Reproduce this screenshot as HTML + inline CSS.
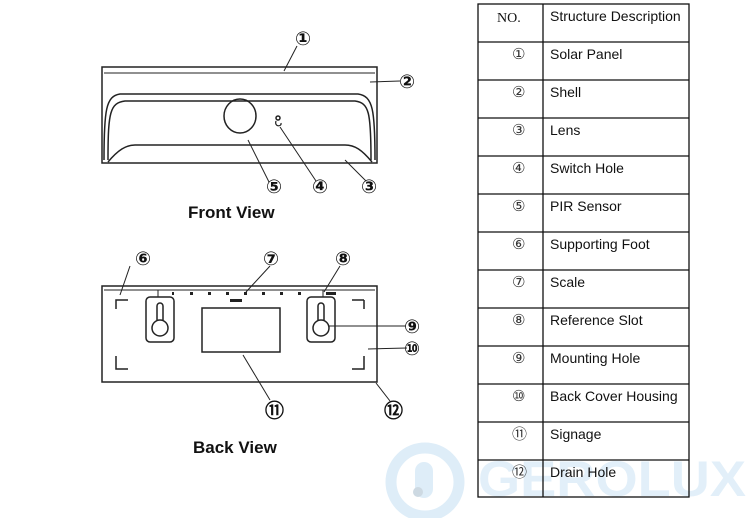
<!DOCTYPE html>
<html><head><meta charset="utf-8"><style>
html,body{margin:0;padding:0;background:#fff;}
svg{display:block}
.c{font-family:"DejaVu Sans","Liberation Sans",sans-serif;font-size:19px;font-weight:bold;fill:#111;}
.t{font-family:"Liberation Sans",sans-serif;font-size:14px;fill:#111;}
.n{font-family:"Liberation Serif","DejaVu Sans",serif;font-size:15px;fill:#333;}
</style></head><body>
<svg width="750" height="518" viewBox="0 0 750 518" xmlns="http://www.w3.org/2000/svg">
<!-- watermark -->
<g fill="none" stroke="#deedf8" stroke-width="11">
<circle cx="425" cy="482" r="34"/>
</g>
<rect x="415" y="462" width="18" height="36" rx="9" fill="#deedf8"/>
<circle cx="418" cy="492" r="5" fill="#cdd9e2"/>
<text x="478" y="496" font-family="Liberation Sans,sans-serif" font-weight="bold" font-size="50" fill="#e2eff9" textLength="268" lengthAdjust="spacingAndGlyphs">GEROLUX</text>

<!-- Front view -->
<g fill="none" stroke="#222" stroke-width="1.5">
<rect x="102" y="67" width="275" height="96"/>
<line x1="104" y1="73" x2="375" y2="73" stroke-width="1"/>
<path d="M104,160 C104,110 106,96 120,94 L358,94 C373,96 375,110 375,160"/>
<path d="M108,160 C108,112 110,103 125,101 L355,101 C369,103 371,112 371,160"/>
<path d="M108,162 C118,150 126,145 135,145 L345,145 C355,145 362,150 372,162"/>
<ellipse cx="240" cy="116" rx="16" ry="17"/>
<circle cx="278" cy="118" r="2"/>
<path d="M276,121 C274,127 282,127 281,123" stroke-width="1.2"/>
<line x1="297" y1="46" x2="284" y2="71" stroke-width="1"/>
<line x1="370" y1="82" x2="400" y2="81" stroke-width="1"/>
<line x1="248" y1="140" x2="269" y2="182" stroke-width="1"/>
<line x1="280" y1="127" x2="316" y2="181" stroke-width="1"/>
<line x1="345" y1="160" x2="366" y2="181" stroke-width="1"/>
</g>
<text class="c" x="295" y="45">①</text>
<text class="c" x="399" y="88">②</text>
<text class="c" x="361" y="193">③</text>
<text class="c" x="312" y="193">④</text>
<text class="c" x="266" y="193">⑤</text>
<text x="188" y="218" font-family="Liberation Sans,sans-serif" font-weight="bold" font-size="17" fill="#111">Front View</text>

<!-- Back view -->
<g fill="none" stroke="#222" stroke-width="1.5">
<rect x="102" y="286" width="275" height="96"/>
<line x1="104" y1="290" x2="375" y2="290" stroke-width="1"/>
<path d="M116,309 V300 H128"/><path d="M364,300 V309 M352,300 H364"/>
<path d="M116,356 V369 H128"/><path d="M364,356 V369 H352"/>
<rect x="146" y="297" width="28" height="45" rx="4"/>
<rect x="307" y="297" width="28" height="45" rx="4"/>
<path d="M157,320 V306 A3,3 0 0 1 163,306 V320"/>
<circle cx="160" cy="328" r="8"/>
<path d="M318,320 V306 A3,3 0 0 1 324,306 V320"/>
<circle cx="321" cy="328" r="8"/>
<rect x="202" y="308" width="78" height="44"/>
<line x1="158" y1="290" x2="158" y2="297" stroke-width="1"/>
<line x1="323" y1="290" x2="323" y2="297" stroke-width="1"/>
<line x1="130" y1="266" x2="120" y2="295" stroke-width="1"/>
<line x1="270" y1="266" x2="246" y2="292" stroke-width="1"/>
<line x1="340" y1="266" x2="324" y2="292" stroke-width="1"/>
<line x1="328" y1="326" x2="406" y2="326" stroke-width="1"/>
<line x1="368" y1="349" x2="407" y2="348" stroke-width="1"/>
<line x1="243" y1="355" x2="270" y2="400" stroke-width="1"/>
<line x1="376" y1="383" x2="390" y2="401" stroke-width="1"/>
</g>
<g fill="#222">
<rect x="172" y="292" width="2" height="3"/><rect x="190" y="292" width="3" height="3"/><rect x="208" y="292" width="3" height="3"/>
<rect x="226" y="292" width="3" height="3"/><rect x="244" y="292" width="3" height="3"/><rect x="262" y="292" width="3" height="3"/>
<rect x="280" y="292" width="3" height="3"/><rect x="298" y="292" width="3" height="3"/><rect x="326" y="292" width="10" height="3"/>
<rect x="230" y="299" width="12" height="3"/>
</g>
<text class="c" x="135" y="265">⑥</text>
<text class="c" x="263" y="265">⑦</text>
<text class="c" x="335" y="265">⑧</text>
<text class="c" x="404" y="333">⑨</text>
<text class="c" x="404" y="355">⑩</text>
<text class="c" x="265" y="417">⑪</text>
<text class="c" x="384" y="417">⑫</text>
<text x="193" y="453" font-family="Liberation Sans,sans-serif" font-weight="bold" font-size="17" fill="#111">Back View</text>

<!-- Table -->
<g stroke="#111" stroke-width="1.3" fill="none">
<rect x="478" y="4" width="211" height="493"/>
<line x1="543" y1="4" x2="543" y2="497"/>
<line x1="478" y1="42" x2="689" y2="42"/>
<line x1="478" y1="80" x2="689" y2="80"/>
<line x1="478" y1="118" x2="689" y2="118"/>
<line x1="478" y1="156" x2="689" y2="156"/>
<line x1="478" y1="194" x2="689" y2="194"/>
<line x1="478" y1="232" x2="689" y2="232"/>
<line x1="478" y1="270" x2="689" y2="270"/>
<line x1="478" y1="308" x2="689" y2="308"/>
<line x1="478" y1="346" x2="689" y2="346"/>
<line x1="478" y1="384" x2="689" y2="384"/>
<line x1="478" y1="422" x2="689" y2="422"/>
<line x1="478" y1="460" x2="689" y2="460"/>
</g>
<text x="497" y="22" font-family="Liberation Serif,serif" font-size="14" fill="#111">NO.</text>
<text class="t" x="550" y="21">Structure Description</text>
<text class="n" x="512" y="59">①</text><text class="n" x="512" y="97">②</text><text class="n" x="512" y="135">③</text>
<text class="n" x="512" y="173">④</text><text class="n" x="512" y="211">⑤</text><text class="n" x="512" y="249">⑥</text>
<text class="n" x="512" y="287">⑦</text><text class="n" x="512" y="325">⑧</text><text class="n" x="512" y="363">⑨</text>
<text class="n" x="512" y="401">⑩</text><text class="n" x="512" y="439">⑪</text><text class="n" x="512" y="477">⑫</text>
<text class="t" x="550" y="59">Solar Panel</text>
<text class="t" x="550" y="97">Shell</text>
<text class="t" x="550" y="135">Lens</text>
<text class="t" x="550" y="173">Switch Hole</text>
<text class="t" x="550" y="211">PIR Sensor</text>
<text class="t" x="550" y="249">Supporting Foot</text>
<text class="t" x="550" y="287">Scale</text>
<text class="t" x="550" y="325">Reference Slot</text>
<text class="t" x="550" y="363">Mounting Hole</text>
<text class="t" x="550" y="401">Back Cover Housing</text>
<text class="t" x="550" y="439">Signage</text>
<text class="t" x="550" y="477">Drain Hole</text>
</svg>
</body></html>
